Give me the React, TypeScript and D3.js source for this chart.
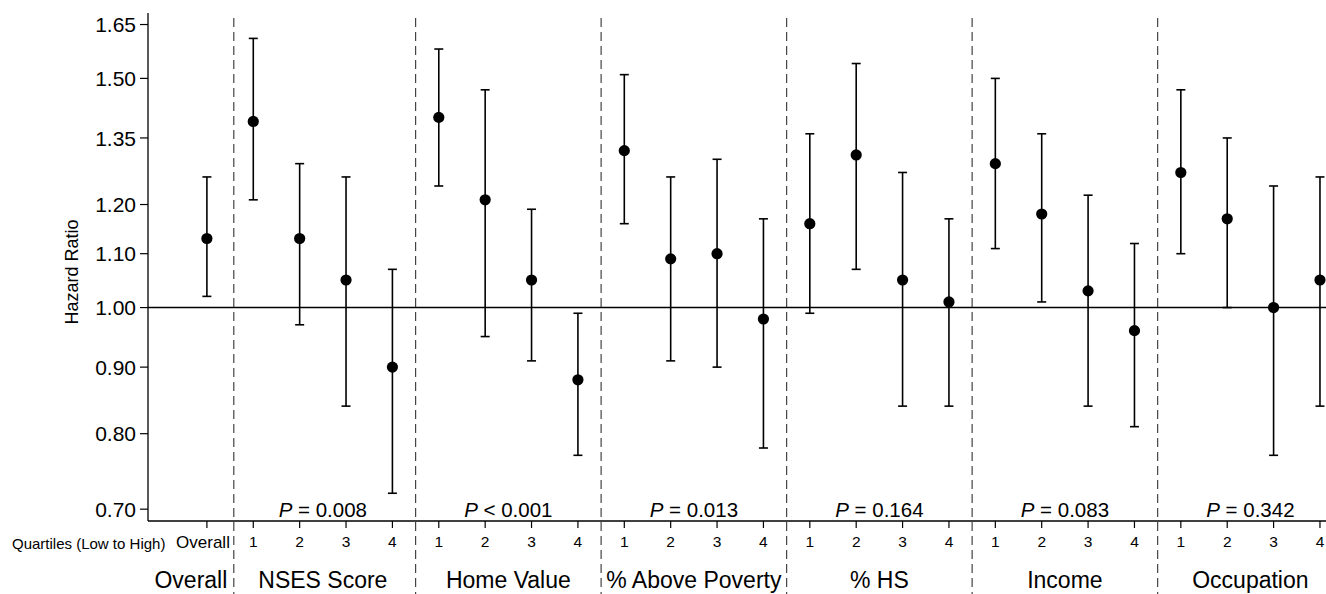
import React from "react";
import * as d3 from "d3";

const groups = ["NSES Score", "Home Value", "% Above Poverty", "% HS", "Income", "Occupation"];
const pLabels = ["= 0.008", "< 0.001", "= 0.013", "= 0.164", "= 0.083", "= 0.342"];
const quartileLabels = ["1", "2", "3", "4"];

const overallHR = 1.13;
const overallLo = 1.02;
const overallHi = 1.26;

// per group: 4 quartiles
const hr = [
  [1.39, 1.13, 1.05, 0.9],
  [1.4, 1.21, 1.05, 0.88],
  [1.32, 1.09, 1.1, 0.98],
  [1.16, 1.31, 1.05, 1.01],
  [1.29, 1.18, 1.03, 0.96],
  [1.27, 1.17, 1.0, 1.05],
];
const lo = [
  [1.21, 0.97, 0.84, 0.72],
  [1.24, 0.95, 0.91, 0.77],
  [1.16, 0.91, 0.9, 0.78],
  [0.99, 1.07, 0.84, 0.84],
  [1.11, 1.01, 0.84, 0.81],
  [1.1, 1.0, 0.77, 0.84],
];
const hi = [
  [1.61, 1.29, 1.26, 1.07],
  [1.58, 1.47, 1.19, 0.99],
  [1.51, 1.26, 1.3, 1.17],
  [1.36, 1.54, 1.27, 1.17],
  [1.5, 1.36, 1.22, 1.12],
  [1.47, 1.35, 1.24, 1.26],
];

const yTicks = [0.7, 0.8, 0.9, 1.0, 1.1, 1.2, 1.35, 1.5, 1.65];

const W = 1326;
const H = 594;
const FONT = "'Liberation Sans', Arial, Helvetica, sans-serif";

export default function App() {
  const axisX = 148;
  const axisY = 521;
  const topY = 13;
  const x = d3.scaleLinear().domain([-1.27, 24.13]).range([axisX, W]);
  const y = d3.scaleLog().domain([0.6855, 1.684]).range([axisY, topY]);

  type Pt = { pos: number; v: number; l: number; h: number };
  const pts: Pt[] = [{ pos: 0, v: overallHR, l: overallLo, h: overallHi }];
  groups.forEach((_, g) => {
    for (let q = 0; q < 4; q++) {
      pts.push({ pos: 1 + 4 * g + q, v: hr[g][q], l: lo[g][q], h: hi[g][q] });
    }
  });

  const dividers = [0.58, ...groups.slice(1).map((_, i) => 4.5 + 4 * i)];
  const capHalf = 4.5;

  return (
    <svg
      width={W}
      height={H}
      style={{ position: "absolute", left: 0, top: 0, background: "#fff" }}
      fontFamily={FONT}
    >
      <rect x={0} y={0} width={W} height={H} fill="#fff" />
      {/* dividers */}
      {dividers.map((d, i) => (
        <line
          key={"d" + i}
          x1={x(d)}
          x2={x(d)}
          y1={18}
          y2={H}
          stroke="#444"
          strokeWidth={1.2}
          strokeDasharray="9 5"
        />
      ))}
      {/* reference line */}
      <line x1={axisX} x2={W} y1={y(1)} y2={y(1)} stroke="#000" strokeWidth={1.5} />
      {/* axes */}
      <line x1={axisX} x2={axisX} y1={topY} y2={axisY} stroke="#000" strokeWidth={1.3} />
      <line x1={axisX} x2={W} y1={axisY} y2={axisY} stroke="#000" strokeWidth={1.3} />
      {yTicks.map((t) => (
        <g key={"yt" + t}>
          <line x1={axisX - 8} x2={axisX} y1={y(t)} y2={y(t)} stroke="#000" strokeWidth={1.2} />
          <text x={136} y={y(t)} dy="0.36em" textAnchor="end" fontSize={21} fill="#000">
            {d3.format(".2f")(t)}
          </text>
        </g>
      ))}
      <text
        transform={`translate(78,${272}) rotate(-90)`}
        textAnchor="middle"
        fontSize={18}
        fill="#000"
      >
        Hazard Ratio
      </text>
      {/* x ticks */}
      {pts.map((p) => (
        <line
          key={"xt" + p.pos}
          x1={x(p.pos)}
          x2={x(p.pos)}
          y1={axisY}
          y2={axisY + 7}
          stroke="#000"
          strokeWidth={1.2}
        />
      ))}
      <text x={203} y={548} textAnchor="middle" fontSize={17} fill="#000">
        Overall
      </text>
      <text x={12} y={549} fontSize={15} fill="#000">
        Quartiles (Low to High)
      </text>
      {groups.map((g, gi) =>
        quartileLabels.map((ql, q) => (
          <text
            key={g + ql}
            x={x(1 + 4 * gi + q)}
            y={547}
            textAnchor="middle"
            fontSize={15.5}
            fill="#000"
          >
            {ql}
          </text>
        ))
      )}
      {/* group labels */}
      <text x={(x(-1.27) + x(0.58)) / 2} y={588} textAnchor="middle" fontSize={23} fill="#000">
        Overall
      </text>
      {groups.map((g, gi) => (
        <text
          key={"gl" + g}
          x={x(2.5 + 4 * gi)}
          y={588}
          textAnchor="middle"
          fontSize={23}
          fill="#000"
        >
          {g}
        </text>
      ))}
      {/* P labels */}
      {groups.map((g, gi) => (
        <text
          key={"p" + g}
          x={x(2.5 + 4 * gi)}
          y={517}
          textAnchor="middle"
          fontSize={20.5}
          fill="#000"
        >
          <tspan fontStyle="italic">P</tspan>
          {" " + pLabels[gi]}
        </text>
      ))}
      {/* error bars and points */}
      {pts.map((p) => (
        <g key={"pt" + p.pos}>
          <line x1={x(p.pos)} x2={x(p.pos)} y1={y(p.l)} y2={y(p.h)} stroke="#000" strokeWidth={1.6} />
          <line
            x1={x(p.pos) - capHalf}
            x2={x(p.pos) + capHalf}
            y1={y(p.l)}
            y2={y(p.l)}
            stroke="#000"
            strokeWidth={1.6}
          />
          <line
            x1={x(p.pos) - capHalf}
            x2={x(p.pos) + capHalf}
            y1={y(p.h)}
            y2={y(p.h)}
            stroke="#000"
            strokeWidth={1.6}
          />
          <circle cx={x(p.pos)} cy={y(p.v)} r={5.6} fill="#000" />
        </g>
      ))}
    </svg>
  );
}
